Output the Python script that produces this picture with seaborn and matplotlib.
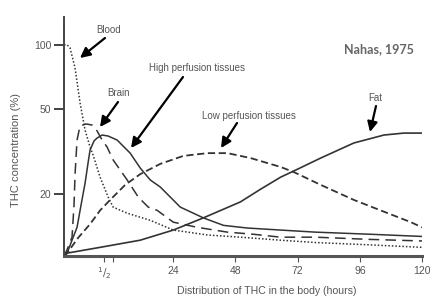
import numpy as np
import pandas as pd
import seaborn as sns
import matplotlib.pyplot as plt

sns.set_style("white")
plt.rcParams['font.family'] = ['Liberation Sans', 'DejaVu Sans']
plt.rcParams['axes.unicode_minus'] = False

# 곡선 데이터 (시간, 농도 %)
blood_h = [0, 0.0375, 0.075, 0.1375, 0.2, 0.2625, 0.325, 0.3625, 0.45, 1.167, 2.0,
           7.13, 15.57, 24, 37.2, 49.9, 65.4, 78.9, 100.2, 120]
blood_c = [100, 100, 96.8, 77.9, 53.4, 39.8, 33.1, 30.4, 23.9, 19.3, 17.3,
           16.2, 15.0, 13.5, 12.8, 12.5, 12.1, 11.8, 11.5, 11.2]

brain_h = [0, 0.0375, 0.1, 0.125, 0.1375, 0.1625, 0.2, 0.275, 0.35, 0.4125, 0.475,
           1.0, 2.0, 7.13, 11.17, 14.83, 18.13, 24, 33.3, 44.9, 55.0, 65.4, 78.9, 100.2, 120]
brain_c = [10.2, 10.9, 12.5, 17.7, 24.5, 35.7, 41.6, 42.5, 42.0, 39.4, 35.7,
           33.1, 28.8, 23.2, 19.3, 17.3, 16.7, 14.7, 13.9, 13.2, 12.9, 12.5, 12.5, 12.2, 12.0]

high_h = [0, 0.0375, 0.1, 0.1625, 0.2125, 0.2625, 0.3, 0.325, 0.375, 0.4125, 0.475,
          1.167, 3.47, 8.23, 11.9, 15.57, 19.23, 26.7, 35.6, 43.4, 52.6, 65.4, 78.9, 100.2, 120]
high_c = [10.2, 10.5, 12.1, 13.9, 17.7, 22.4, 27.9, 32.1, 35.4, 36.5, 37.7,
          37.3, 35.7, 31.0, 26.4, 23.2, 21.5, 17.3, 15.4, 14.2, 13.8, 13.5, 13.2, 12.9, 12.6]

low_h = [0, 0.0375, 0.175, 0.325, 0.45, 1.5, 6.4, 11.9, 19.23, 27.9, 37.2, 44.9,
         53.8, 65.4, 70.4, 80.9, 93.7, 106.8, 115.7, 120]
low_c = [10.2, 10.5, 12.4, 14.4, 16.7, 18.7, 22.0, 24.7, 27.6, 30.1, 31.0, 31.0,
         29.4, 26.7, 25.3, 22.0, 18.7, 16.2, 14.7, 13.9]

fat_h = [0, 0.025, 0.45, 11.9, 24, 35.6, 49.9, 57.7, 65.4, 71.2, 80.9, 93.7, 105.3, 113.0, 120]
fat_c = [10.2, 10.5, 11.2, 12.1, 13.5, 15.4, 18.3, 21.0, 23.9, 25.8, 29.4, 34.6, 37.7, 38.5, 38.5]

x_ticks = [0.5, 2, 24, 48, 72, 96, 120]
x_tick_labels = ["$^{1}/_{2}$", "", "24", "48", "72", "96", "120"]
y_ticks = [20, 50, 100]

# x축: 앞부분(0~2시간)을 늘린 구간별 선형 스케일
h_nodes = np.array([0, 0.5, 2, 24, 120])
p_nodes = np.array([0, 40, 49, 109, 357])


def fwd(h):
    h = np.asarray(h, dtype=float)
    out = np.interp(h, h_nodes, p_nodes)
    out = np.where(h > 120, 357 + (h - 120) * 2.583, out)
    out = np.where(h < 0, h * 80, out)
    return out


def inv(p):
    p = np.asarray(p, dtype=float)
    out = np.interp(p, p_nodes, h_nodes)
    out = np.where(p > 357, 120 + (p - 357) / 2.583, out)
    out = np.where(p < 0, p / 80, out)
    return out


def fig_px(x, y):
    return (x / 430, 1 - y / 296)


fig = plt.figure(figsize=(4.3, 2.96), dpi=100)
ax = fig.add_axes([64 / 430, 40 / 296, 358 / 430, 239 / 296])

line_col = "#333333"
curves = [
    (blood_h, blood_c, (0, (1, 1.3)), 1.1),
    (brain_h, brain_c, (0, (7, 4)), 1.1),
    (high_h, high_c, "-", 1.1),
    (low_h, low_c, (0, (4, 2)), 1.3),
    (fat_h, fat_c, "-", 1.2),
]
for hh, cc, ls, lw in curves:
    df = pd.DataFrame({"hours": hh, "conc": cc})
    sns.lineplot(data=df, x="hours", y="conc", ax=ax, sort=False, estimator=None,
                 color=line_col, linestyle=ls, linewidth=lw)

ax.set_xscale("function", functions=(fwd, inv))
ax.set_yscale("log")
ax.set_xlim(0, 120)
ax.set_ylim(10.2, 135)

ax.set_xticks(x_ticks)
ax.set_xticklabels(x_tick_labels)
ax.set_yticks(y_ticks)
ax.set_yticklabels([str(v) for v in y_ticks])
ax.minorticks_off()
ax.tick_params(axis="y", direction="out", length=7, width=1.3, color="#333333",
               labelsize=7.5, labelcolor="#555555", pad=2, left=True)
ax.tick_params(axis="x", direction="out", length=4, width=0.8, color="#555555",
               labelsize=7.5, labelcolor="#555555", pad=3, bottom=True)

for s in ["top", "right"]:
    ax.spines[s].set_visible(False)
ax.spines["left"].set_linewidth(1.4)
ax.spines["left"].set_color("#444444")
ax.spines["bottom"].set_linewidth(2.2)
ax.spines["bottom"].set_color("#555555")

ax.set_xlabel("")
ax.set_ylabel("")
fig.text(*fig_px(267, 291), "Distribution of THC in the body (hours)", fontsize=7.6,
         color="#555555", ha="center", va="center")
fig.text(*fig_px(16, 150), "THC concentration (%)", fontsize=8, color="#555555",
         ha="center", va="center", rotation=90)

# 곡선 이름 + 화살표
labels = [
    ("Blood", (109, 30), (105, 38), (80, 58)),
    ("Brain", (119, 93), (118, 102), (100, 127)),
    ("High perfusion tissues", (197, 68), (183, 77), (131, 148)),
    ("Low perfusion tissues", (249, 116), (237, 123), (221, 148)),
    ("Fat", (375, 98), (376, 106), (370, 132)),
]
arrow_kw = dict(arrowstyle="-|>,head_length=0.6,head_width=0.3", lw=1.6, color="black",
                shrinkA=0, shrinkB=0)
for name, tpos, a0, a1 in labels:
    fig.text(*fig_px(*tpos), name, fontsize=7, color="#555555", ha="center", va="center")
    ax.annotate("", xy=fig_px(*a1), xycoords="figure fraction",
                xytext=fig_px(*a0), textcoords="figure fraction", arrowprops=arrow_kw)

fig.text(*fig_px(379, 49), "Nahas, 1975", fontsize=9, fontweight="bold", color="#666666",
         ha="center", va="center", family=["Lato", "DejaVu Sans"])

fig.savefig("out.png", dpi=100)
